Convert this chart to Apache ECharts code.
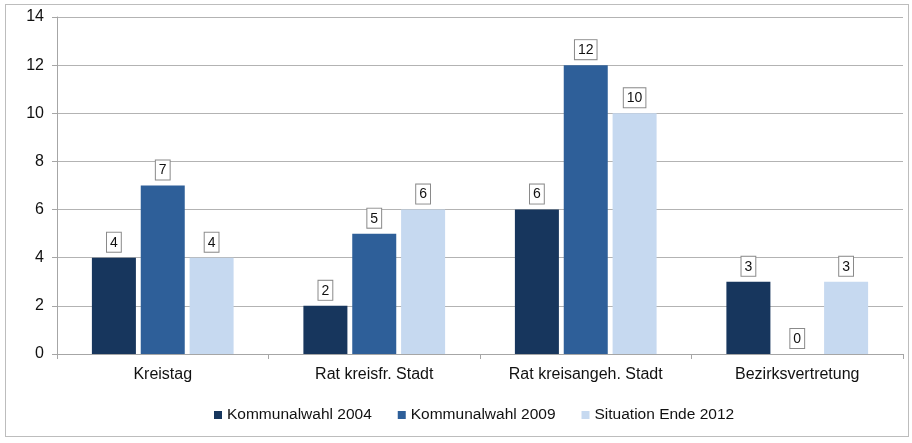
<!DOCTYPE html>
<html>
<head>
<meta charset="utf-8">
<script src="https://cdn.jsdelivr.net/npm/echarts@6/dist/echarts.min.js"></script>
<style>
html,body{margin:0;padding:0;background:#fff;}
#frame{position:absolute;left:5px;top:4px;width:904px;height:433px;border:1px solid #bdbdbd;box-sizing:border-box;}
#chart{position:absolute;left:0;top:0;width:912px;height:443px;}
</style>
</head>
<body>
<div id="frame"></div>
<div id="chart"></div>
<script>
const categories = ['Kreistag', 'Rat kreisfr. Stadt', 'Rat kreisangeh. Stadt', 'Bezirksvertretung'];
const seriesNames = ['Kommunalwahl 2004', 'Kommunalwahl 2009', 'Situation Ende 2012'];
const values2004 = [4, 2, 6, 3];
const values2009 = [7, 5, 12, 0];
const values2012 = [4, 6, 10, 3];
const colors = ['#17365d', '#2e5f99', '#c6d9f0'];

const chart = echarts.init(document.getElementById('chart'));
const labelStyle = {
  show: true,
  position: 'top',
  distance: 6,
  color: '#111',
  fontFamily: 'Liberation Sans, Arial, sans-serif',
  fontSize: 14,
  backgroundColor: '#fff',
  borderColor: '#8a8a8a',
  borderWidth: 1,
  padding: [3, 3, 2, 3]
};
const mk = (name, data, i) => ({
  name: name,
  type: 'bar',
  data: data,
  barGap: '11%',
  barCategoryGap: '33%',
  itemStyle: { color: colors[i] },
  label: labelStyle,
  emphasis: { disabled: true }
});
chart.setOption({
  animation: false,
  textStyle: { fontFamily: 'Liberation Sans, Arial, sans-serif' },
  grid: { left: 57, right: 9, top: 17, bottom: 89 },
  legend: {
    data: seriesNames,
    top: 402,
    left: 209,
    icon: 'rect',
    itemWidth: 8,
    itemHeight: 8,
    itemGap: 26,
    textStyle: { fontSize: 15.5, color: '#111' }
  },
  xAxis: {
    type: 'category',
    data: categories,
    axisLine: { lineStyle: { color: '#a6a6a6' } },
    axisTick: { show: true, length: 5, lineStyle: { color: '#a6a6a6' } },
    axisLabel: { fontSize: 16, color: '#111', margin: 13 }
  },
  yAxis: {
    type: 'value',
    min: 0,
    max: 14,
    interval: 2,
    axisLine: { show: true, lineStyle: { color: '#a6a6a6' } },
    axisTick: { show: true, length: 5, inside: false, lineStyle: { color: '#a6a6a6' } },
    axisLabel: { fontSize: 16, color: '#111', margin: 13 },
    splitLine: { lineStyle: { color: '#b3b3b3' } }
  },
  series: [
    mk(seriesNames[0], values2004, 0),
    mk(seriesNames[1], values2009, 1),
    mk(seriesNames[2], values2012, 2)
  ]
});
</script>
</body>
</html>
